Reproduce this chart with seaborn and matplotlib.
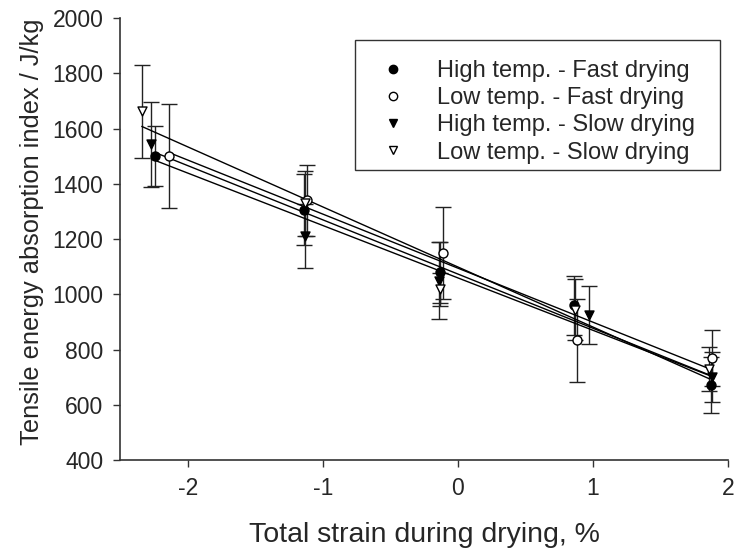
import matplotlib
matplotlib.use("Agg")
import matplotlib.pyplot as plt
import seaborn as sns
import numpy as np
import pandas as pd
from matplotlib.lines import Line2D
from matplotlib.patches import Rectangle

# Data
labels = ["High temp. - Fast drying", "Low temp. - Fast drying",
          "High temp. - Slow drying", "Low temp. - Slow drying"]

hf_x = [-2.24, -1.14, -0.13, 0.86, 1.87]
hf_y = [1502, 1307, 1080, 960, 672]
hf_e = [108, 130, 110, 106, 100]

lf_x = [-2.14, -1.12, -0.11, 0.88, 1.88]
lf_y = [1500, 1340, 1150, 834, 770]
lf_e = [188, 130, 165, 150, 100]

hs_x = [-2.27, -1.13, -0.14, 0.97, 1.88]
hs_y = [1543, 1211, 1050, 925, 700]
hs_e = [155, 115, 140, 105, 90]

ls_x = [-2.34, -1.13, -0.135, 0.87, 1.86]
ls_y = [1663, 1330, 1018, 945, 730]
ls_e = [168, 117, 60, 109, 80]

xticks = [-2, -1, 0, 1, 2]
yticks = [400, 600, 800, 1000, 1200, 1400, 1600, 1800, 2000]

sns.set_theme(style="ticks")
plt.rcParams['font.family'] = ['Liberation Sans', 'DejaVu Sans']

fig = plt.figure(figsize=(7.37, 5.51), dpi=100)
ax = fig.add_axes([0.163, 0.165, 0.825, 0.802])

series = [
    (hf_x, hf_y, hf_e, 'o', 'black'),
    (lf_x, lf_y, lf_e, 'o', 'white'),
    (hs_x, hs_y, hs_e, 'v', 'black'),
    (ls_x, ls_y, ls_e, 'v', 'white'),
]

handles = []
for (x, y, e, m, fc), lab in zip(series, labels):
    df = pd.DataFrame({"x": x, "y": y})
    ax.errorbar(x, y, yerr=e, fmt='none', ecolor='#222222', elinewidth=1.0,
                capsize=6, capthick=1.0, zorder=2)
    sns.regplot(data=df, x="x", y="y", ax=ax, scatter=False, ci=None,
                truncate=True, line_kws=dict(color='black', lw=1.0, zorder=3))
    ax.scatter(x, y, marker=m, s=42, facecolor=fc, edgecolor='black',
               linewidth=1.0, zorder=4)
    handles.append(Line2D([], [], linestyle='none', marker=m, markersize=6,
                          markerfacecolor=fc, markeredgecolor='black',
                          markeredgewidth=1.0, label=lab))

ax.set_xlim(-2.5, 2.0)
ax.set_ylim(400, 2000)
ax.set_xticks(xticks)
ax.set_yticks(yticks)
ax.set_xticklabels([str(t) for t in xticks])
ax.tick_params(axis='both', labelsize=16.5, direction='out', length=5, width=1,
               color='#333333', pad=7)
for s in ['top', 'right']:
    ax.spines[s].set_visible(False)
for s in ['left', 'bottom']:
    ax.spines[s].set_color('#333333')
    ax.spines[s].set_linewidth(1.2)

ax.set_xlabel("Total strain during drying, %", fontsize=20.5, labelpad=16)
ax.set_ylabel("Tensile energy absorption index / J/kg", fontsize=18.3, labelpad=6)
ax.yaxis.label.set_y(0.516)

# legend frame drawn separately so its padding matches the reference
ax.add_patch(Rectangle((0.3865, 0.656), 0.6005, 0.294, transform=ax.transAxes,
                       facecolor='white', edgecolor='#333333', linewidth=1.0,
                       zorder=5, clip_on=False))
leg = ax.legend(handles=handles, loc='upper left', bbox_to_anchor=(0.3865, 0.932),
                fontsize=17, frameon=False, borderpad=0.5, handletextpad=0.75,
                labelspacing=0.22, borderaxespad=0, handlelength=2.2)
leg.set_zorder(6)

fig.savefig("out.png", dpi=100)
